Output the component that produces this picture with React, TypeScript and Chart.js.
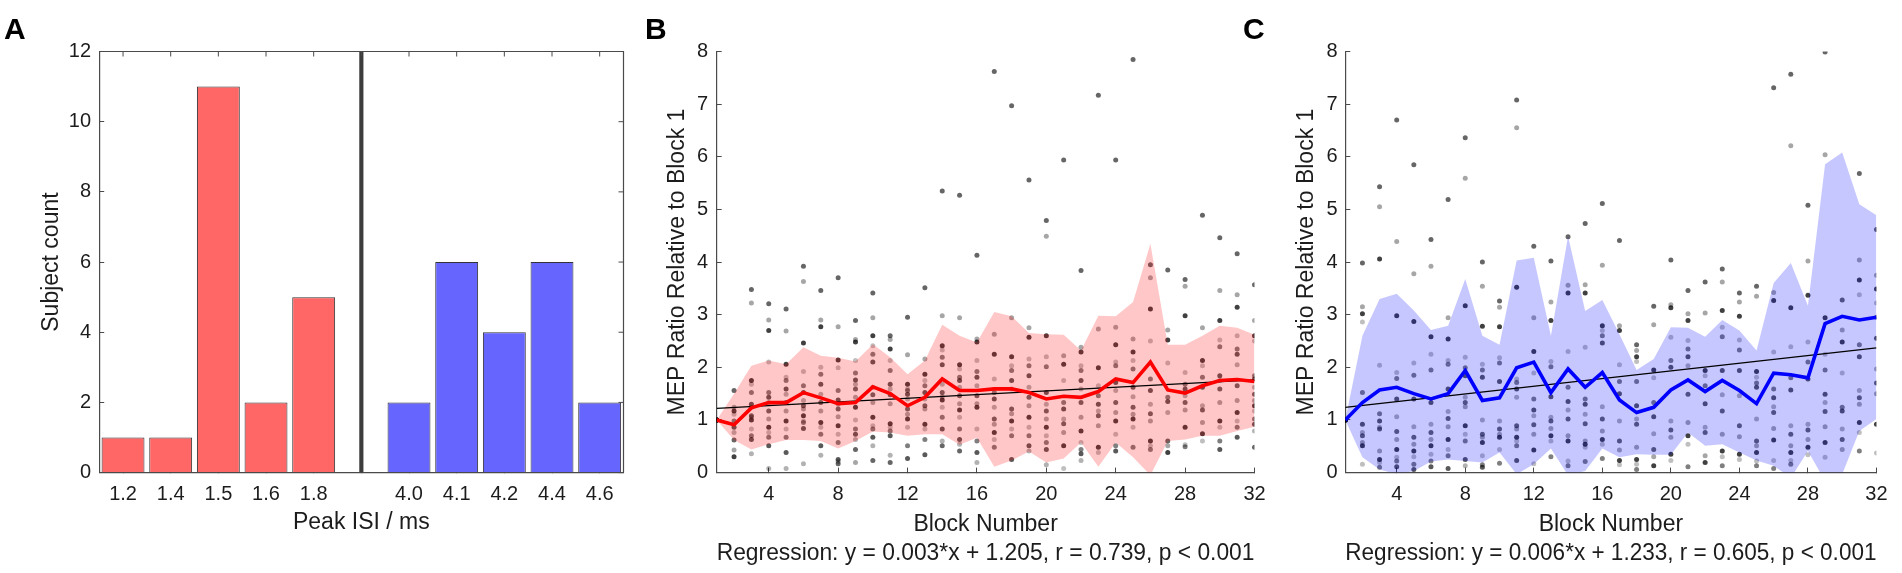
import { useEffect, useRef } from "react";
import { Chart, registerables } from "chart.js";

Chart.register(...registerables);

const FONT = "'Liberation Sans', Arial, Helvetica, sans-serif";
const INK = "#1c1c1c";
const AXIS = "#4a4a4a";

Chart.defaults.font.family = FONT;
Chart.defaults.color = INK;

// ---- Panel A: peak ISI histogram ----
const isiLabels = ["1.2", "1.4", "1.5", "1.6", "1.8", "", "4.0", "4.1", "4.2", "4.4", "4.6"];
const earlyCounts = [1, 1, 11, 2, 5, null, null, null, null, null, null];
const lateCounts = [null, null, null, null, null, null, 2, 6, 4, 6, 2];
const dividerCounts = [null, null, null, null, null, 12, null, null, null, null, null];

// ---- Panels B and C: MEP ratio per block ----
const blocks = [1, 2, 3, 4, 5, 6, 7, 8, 9, 10, 11, 12, 13, 14, 15, 16, 17, 18, 19, 20, 21, 22, 23, 24, 25, 26, 27, 28, 29, 30, 31, 32];
const blockTicks = [4, 8, 12, 16, 20, 24, 28, 32];
const regX = [1, 32];

const bMean = [1.0, 0.91, 1.23, 1.33, 1.33, 1.52, 1.42, 1.31, 1.33, 1.63, 1.5, 1.27, 1.43, 1.78, 1.56, 1.56, 1.59, 1.59, 1.52, 1.4, 1.45, 1.43, 1.54, 1.78, 1.71, 2.1, 1.57, 1.51, 1.65, 1.75, 1.77, 1.73];
const bUpper = [1.0, 1.5, 2.03, 2.13, 2.06, 2.38, 2.22, 2.18, 2.11, 2.44, 2.19, 1.87, 2.13, 2.81, 2.6, 2.47, 3.05, 2.97, 2.65, 2.63, 2.62, 2.32, 2.98, 2.97, 3.24, 4.35, 2.43, 2.43, 2.6, 2.79, 2.75, 2.62];
const bLower = [1.0, 0.62, 0.44, 0.54, 0.62, 0.62, 0.6, 0.46, 0.6, 0.78, 0.76, 0.7, 0.73, 0.73, 0.53, 0.66, 0.11, 0.23, 0.4, 0.19, 0.27, 0.57, 0.11, 0.57, 0.29, -0.05, 0.6, 0.63, 0.7, 0.7, 0.79, 0.87];
const bRegression = [1.22, 1.76];
const bDots = [
  [1, 1, 1, 1, 1, 1, 1, 1],
  [1.56, 1.24, 1.17, 1.11, 0.98, 0.86, 0.76, 0.62, 0.43, 0.3],
  [3.48, 3.22, 1.75, 1.68, 1.52, 1.3, 1.24, 1.08, 1.05, 1.0, 0.83, 0.7, 0.63, 0.36],
  [3.21, 2.9, 2.7, 2.1, 1.52, 1.43, 1.33, 1.17, 1.02, 0.86, 0.76, 0.67, 0.51, 0.08],
  [3.11, 2.69, 2.06, 1.81, 1.75, 1.59, 1.49, 1.33, 1.17, 0.98, 0.83, 0.67, 0.38, 0.08],
  [3.92, 3.63, 2.46, 1.92, 1.65, 1.52, 1.37, 1.27, 1.21, 1.08, 0.98, 0.95, 0.84, 0.17],
  [3.46, 2.9, 2.77, 2.0, 1.87, 1.68, 1.49, 1.33, 1.17, 0.95, 0.86, 0.73, 0.51, 0.33],
  [3.7, 2.77, 2.14, 1.99, 1.56, 1.38, 1.3, 1.21, 1.06, 0.89, 0.73, 0.57, 0.25, 0.21, 0.17],
  [2.89, 2.53, 2.48, 2.13, 1.89, 1.76, 1.68, 1.59, 1.43, 1.24, 1.0, 0.83, 0.73, 0.63, 0.44, 0.19],
  [3.41, 2.94, 2.6, 2.41, 2.25, 2.1, 1.62, 1.48, 1.33, 1.05, 0.89, 0.83, 0.67, 0.51, 0.23],
  [2.6, 2.53, 2.35, 2.13, 1.94, 1.68, 1.59, 1.48, 1.31, 0.93, 0.86, 0.79, 0.7, 0.33, 0.19],
  [2.95, 2.24, 1.68, 1.59, 1.56, 1.49, 1.4, 1.21, 1.11, 1.02, 0.86, 0.51, 0.27],
  [3.51, 2.16, 1.87, 1.75, 1.65, 1.52, 1.4, 1.27, 1.21, 0.92, 0.83, 0.63, 0.34],
  [5.35, 2.98, 2.41, 2.33, 2.19, 2.05, 1.68, 1.52, 1.44, 1.38, 1.24, 1.05, 0.83, 0.6, 0.51],
  [5.27, 2.94, 2.05, 1.97, 1.81, 1.75, 1.62, 1.46, 1.31, 1.19, 1.05, 0.83, 0.63, 0.54, 0.41],
  [4.13, 2.54, 2.48, 2.13, 1.92, 1.81, 1.65, 1.46, 1.31, 1.24, 0.83, 0.6, 0.38, 0.19],
  [7.62, 2.63, 2.25, 1.78, 1.52, 1.4, 1.24, 1.02, 0.92, 0.76, 0.63, 0.48],
  [6.97, 2.94, 2.2, 2.03, 1.94, 1.75, 1.59, 1.21, 1.12, 0.98, 0.83, 0.7, 0.25],
  [5.56, 2.75, 2.57, 2.16, 2.03, 1.84, 1.62, 1.43, 1.27, 1.05, 0.86, 0.7, 0.51, 0.41],
  [4.79, 4.49, 2.6, 2.2, 2.01, 1.52, 1.3, 1.17, 1.02, 0.86, 0.7, 0.57, 0.44, 0.15],
  [5.94, 2.22, 2.06, 1.75, 1.33, 1.21, 1.02, 0.93, 0.76, 0.51, 0.08],
  [3.84, 2.38, 2.29, 2.03, 1.94, 1.75, 1.59, 1.33, 1.05, 0.79, 0.57, 0.44, 0.36, 0.23],
  [7.17, 2.73, 1.99, 1.65, 1.46, 1.3, 1.17, 1.08, 0.89, 0.48, 0.38],
  [5.94, 2.76, 2.43, 2.1, 2.03, 1.71, 1.56, 1.33, 1.14, 0.98, 0.73, 0.51, 0.41],
  [7.85, 2.54, 2.29, 2.13, 1.97, 1.62, 1.44, 1.24, 1.11, 1.02, 0.86, 0.48],
  [3.95, 3.7, 3.11, 2.5, 1.78, 1.56, 1.3, 1.12, 0.98, 0.6, 0.51, 0.44],
  [3.85, 2.71, 2.52, 2.08, 1.43, 1.35, 1.14, 0.6, 0.51, 0.38],
  [3.67, 3.54, 2.98, 1.9, 1.68, 1.59, 1.46, 1.33, 1.19, 0.86, 0.53, 0.49],
  [4.89, 2.75, 2.13, 2.03, 1.81, 1.62, 1.27, 1.19, 0.95, 0.74, 0.6],
  [4.46, 3.46, 2.89, 2.52, 2.39, 1.84, 1.75, 1.59, 1.33, 0.98, 0.86, 0.6, 0.44],
  [4.16, 3.38, 3.14, 2.6, 2.35, 2.25, 2.05, 1.65, 1.37, 1.14, 0.98, 0.86, 0.67],
  [3.57, 2.89, 2.6, 2.5, 1.84, 1.78, 1.62, 1.49, 1.37, 1.27, 1.17, 1.02, 0.92, 0.79, 0.48],
];

const cMean = [1.0, 1.33, 1.57, 1.62, 1.5, 1.4, 1.5, 1.94, 1.37, 1.42, 1.99, 2.1, 1.52, 1.97, 1.62, 1.9, 1.38, 1.14, 1.24, 1.57, 1.76, 1.54, 1.75, 1.56, 1.31, 1.89, 1.86, 1.8, 2.83, 2.97, 2.9, 2.95];
const cUpper = [1.0, 2.6, 3.3, 3.4, 3.08, 2.71, 2.79, 3.68, 2.6, 2.43, 4.03, 4.08, 2.6, 4.49, 3.07, 3.28, 2.63, 1.95, 2.16, 2.76, 2.75, 2.58, 2.9, 2.7, 2.32, 3.6, 3.98, 3.17, 5.86, 6.08, 5.1, 4.89];
const cLower = [1.0, 0.29, 0.06, -0.03, 0.03, 0.21, 0.25, 0.22, 0.19, 0.38, -0.03, 0.16, 0.46, -0.05, 0.03, 0.46, 0.29, 0.35, 0.34, 0.34, 0.76, 0.51, 0.54, 0.38, 0.23, 0.13, -0.1, 0.41, -0.16, -0.03, 0.79, 1.02];
const cRegression = [1.24, 2.37];
const cDots = [
  [1, 1, 1, 1, 1, 1, 1, 1],
  [3.98, 3.15, 3.02, 2.86, 1.52, 0.92, 0.76, 0.7, 0.57, 0.51, 0.16],
  [5.43, 5.05, 4.06, 2.04, 1.12, 0.98, 0.86, 0.83, 0.41, 0.25, 0.19, 0.1],
  [6.7, 4.39, 2.98, 1.9, 1.79, 1.4, 1.06, 0.78, 0.63, 0.44, 0.29, 0.22, 0.11],
  [5.85, 3.78, 2.87, 2.08, 1.85, 1.4, 0.87, 0.67, 0.54, 0.41, 0.3, 0.16, 0.06],
  [4.43, 3.92, 2.58, 2.25, 1.95, 1.33, 0.92, 0.76, 0.63, 0.51, 0.35, 0.22, 0.11],
  [5.19, 2.94, 2.54, 2.13, 2.06, 1.59, 1.16, 1.03, 0.87, 0.63, 0.44, 0.32, 0.08],
  [6.36, 5.59, 3.17, 2.19, 1.99, 1.84, 1.43, 1.33, 1.25, 0.89, 0.73, 0.6, 0.25, 0.13],
  [4.0, 3.54, 2.78, 2.06, 1.95, 1.81, 1.0, 0.73, 0.67, 0.57, 0.32, 0.15, 0.1],
  [3.26, 3.14, 2.77, 2.18, 2.08, 1.73, 0.98, 0.83, 0.73, 0.67, 0.44, 0.18],
  [7.08, 6.55, 3.52, 1.78, 1.71, 1.59, 1.43, 0.89, 0.83, 0.67, 0.6, 0.51, 0.23],
  [4.3, 2.94, 2.3, 1.89, 1.4, 1.19, 1.08, 0.91, 0.73, 0.43, 0.17],
  [4.02, 3.24, 2.89, 2.11, 2.01, 1.44, 1.05, 0.98, 0.84, 0.7, 0.6, 0.3],
  [4.48, 3.56, 3.41, 2.3, 1.62, 1.35, 1.19, 1.02, 0.7, 0.6, 0.22, 0.13],
  [4.73, 3.57, 3.41, 2.38, 1.4, 1.3, 1.11, 0.93, 0.6, 0.54, 0.48, 0.21],
  [5.11, 3.94, 2.79, 2.7, 2.6, 2.46, 1.25, 1.02, 0.79, 0.63, 0.54, 0.27],
  [4.41, 2.79, 2.7, 2.05, 1.73, 1.5, 0.98, 0.6, 0.43, 0.23, 0.15],
  [2.43, 2.32, 2.2, 2.11, 1.73, 1.27, 1.02, 0.92, 0.48, 0.25, 0.16, 0.06],
  [3.16, 2.81, 1.95, 1.8, 1.33, 1.06, 0.74, 0.44, 0.3, 0.13],
  [4.04, 3.19, 3.13, 2.57, 2.13, 2.0, 0.98, 0.81, 0.67, 0.35, 0.23],
  [3.46, 3.02, 2.89, 2.51, 2.35, 2.2, 2.03, 1.49, 0.95, 0.7, 0.54, 0.11],
  [3.62, 3.03, 1.94, 1.84, 1.65, 1.31, 0.86, 0.76, 0.32, 0.19],
  [3.87, 3.62, 3.08, 2.76, 2.58, 1.94, 1.48, 1.17, 0.73, 0.41, 0.3, 0.13],
  [3.41, 3.24, 2.97, 2.52, 2.33, 1.94, 1.46, 0.89, 0.68, 0.35, 0.25],
  [3.54, 3.35, 1.92, 1.81, 1.7, 1.62, 1.02, 0.6, 0.51, 0.38, 0.22, 0.13],
  [7.31, 3.42, 3.27, 2.29, 1.59, 1.42, 1.25, 1.14, 0.84, 0.62, 0.23, 0.08],
  [7.57, 6.21, 3.13, 2.39, 1.8, 1.57, 0.89, 0.73, 0.51, 0.38, 0.23, 0.16],
  [5.08, 4.02, 3.37, 2.48, 2.1, 1.78, 0.92, 0.81, 0.63, 0.48, 0.34],
  [7.99, 6.04, 2.94, 2.25, 1.95, 1.49, 1.33, 1.16, 0.87, 0.57, 0.29],
  [3.28, 2.71, 2.48, 1.89, 1.24, 1.17, 0.83, 0.63, 0.44],
  [5.68, 4.04, 3.66, 3.38, 2.43, 2.2, 1.56, 1.42, 1.3, 0.95, 0.76, 0.41],
  [4.62, 3.75, 3.49, 3.22, 2.95, 2.55, 1.97, 1.7, 1.5, 0.92, 0.37],
];

// subject dots are black at a few transparencies
const dotAlphas = [0.6, 0.35, 0.75, 0.25, 0.5, 0.65, 0.3];

const inwardGrid = {
  drawOnChartArea: false,
  drawTicks: true,
  tickLength: -5,
  tickWidth: 1,
  color: AXIS,
  offset: false,
};
const axisBorder = { display: true, color: AXIS, width: 1.2 };
const tickFont = { family: FONT, size: 20 };

// closes the box of panel A (top and right edges, with inward ticks)
const boxFrame = {
  id: "boxFrame",
  afterDraw(chart: any) {
    const { ctx, chartArea, scales } = chart;
    const { left, right, top, bottom } = chartArea;
    ctx.save();
    ctx.strokeStyle = AXIS;
    ctx.lineWidth = 1.2;
    ctx.beginPath();
    ctx.moveTo(left, top);
    ctx.lineTo(right, top);
    ctx.lineTo(right, bottom);
    ctx.stroke();
    ctx.lineWidth = 1;
    ctx.beginPath();
    scales.x.ticks.forEach((_: any, i: number) => {
      const px = scales.x.getPixelForTick(i);
      ctx.moveTo(px, top);
      ctx.lineTo(px, top + 5);
    });
    scales.y.ticks.forEach((t: any) => {
      const py = scales.y.getPixelForValue(t.value);
      ctx.moveTo(right, py);
      ctx.lineTo(right - 5, py);
    });
    ctx.stroke();
    ctx.restore();
  },
};

function histogramConfig(): any {
  return {
    type: "bar",
    data: {
      labels: isiLabels,
      datasets: [
        {
          data: earlyCounts,
          backgroundColor: "#ff6666",
          borderColor: "#333333",
          borderWidth: 1,
          barPercentage: 0.9,
          categoryPercentage: 1,
          grouped: false,
        },
        {
          data: lateCounts,
          backgroundColor: "#6666ff",
          borderColor: "#333333",
          borderWidth: 1,
          barPercentage: 0.9,
          categoryPercentage: 1,
          grouped: false,
        },
        {
          data: dividerCounts,
          backgroundColor: "#3c3c3c",
          borderWidth: 0,
          barThickness: 3.5,
          grouped: false,
        },
      ],
    },
    plugins: [boxFrame],
    options: {
      animation: false,
      responsive: true,
      maintainAspectRatio: false,
      events: [],
      layout: { padding: { left: 38, right: 16.5, top: 51.5, bottom: 36.6 } },
      plugins: { legend: { display: false }, tooltip: { enabled: false } },
      scales: {
        x: {
          type: "category",
          position: "bottom",
          offset: true,
          grid: inwardGrid,
          border: axisBorder,
          ticks: { font: tickFont, color: INK, padding: 14.4, autoSkip: false, maxRotation: 0 },
          title: {
            display: true,
            text: "Peak ISI / ms",
            color: INK,
            font: { family: FONT, size: 23, lineHeight: 1.2 },
            padding: 0,
          },
          afterFit: (s: any) => {
            s.height = 63.8;
          },
        },
        y: {
          type: "linear",
          position: "left",
          min: 0,
          max: 12,
          grid: inwardGrid,
          border: axisBorder,
          ticks: { stepSize: 2, font: tickFont, color: INK, padding: 13.2 },
          title: {
            display: true,
            text: "Subject count",
            color: INK,
            font: { family: FONT, size: 23, lineHeight: 1.2 },
            padding: 0,
          },
          afterFit: (s: any) => {
            s.width = 61.2;
          },
        },
      },
    },
  };
}

interface BlockPanel {
  dots: number[][];
  mean: number[];
  upper: number[];
  lower: number[];
  regression: number[];
  lineColor: string;
  bandColor: string;
  regressionText: string;
  padLeft: number;
  padRight: number;
  yWidth: number;
  yTickPad: number;
}

function blockConfig(p: BlockPanel): any {
  const pts = (ys: number[]) => ys.map((y, i) => ({ x: blocks[i], y }));
  const dotPts = p.dots.flatMap((vals, i) => vals.map((y) => ({ x: blocks[i], y })));
  const dotColors = p.dots.flatMap((vals) =>
    vals.map((_, j) => `rgba(0,0,0,${dotAlphas[j % dotAlphas.length]})`)
  );
  return {
    type: "line",
    data: {
      datasets: [
        {
          type: "scatter",
          data: dotPts,
          pointRadius: 2.5,
          pointBorderWidth: 0,
          pointBackgroundColor: dotColors,
          order: 5,
        },
        {
          data: pts(p.upper),
          borderColor: "rgba(0,0,0,0)",
          borderWidth: 0,
          pointRadius: 0,
          fill: false,
          order: 4,
        },
        {
          data: pts(p.lower),
          borderColor: "rgba(0,0,0,0)",
          borderWidth: 0,
          pointRadius: 0,
          fill: "-1",
          backgroundColor: p.bandColor,
          order: 3,
        },
        {
          data: p.regression.map((y, i) => ({ x: regX[i], y })),
          borderColor: "#000000",
          borderWidth: 1.2,
          pointRadius: 0,
          fill: false,
          order: 2,
        },
        {
          data: pts(p.mean),
          borderColor: p.lineColor,
          borderWidth: 3.6,
          pointRadius: 0,
          fill: false,
          tension: 0,
          order: 1,
        },
      ],
    },
    options: {
      animation: false,
      responsive: true,
      maintainAspectRatio: false,
      events: [],
      layout: { padding: { left: p.padLeft, right: p.padRight, top: 51.5, bottom: 4.7 } },
      plugins: { legend: { display: false }, tooltip: { enabled: false } },
      scales: {
        x: {
          type: "linear",
          position: "bottom",
          min: 1,
          max: 32,
          grid: inwardGrid,
          border: axisBorder,
          ticks: { font: tickFont, color: INK, padding: 14.4, autoSkip: false, maxRotation: 0 },
          afterBuildTicks: (s: any) => {
            s.ticks = blockTicks.map((v) => ({ value: v }));
          },
          title: {
            display: true,
            text: ["Block Number", p.regressionText],
            color: INK,
            font: { family: FONT, size: 23, lineHeight: 1.27 },
            padding: 0,
          },
          afterFit: (s: any) => {
            s.height = 95.7;
          },
        },
        y: {
          type: "linear",
          position: "left",
          min: 0,
          max: 8,
          grid: inwardGrid,
          border: axisBorder,
          ticks: { stepSize: 1, font: tickFont, color: INK, padding: p.yTickPad },
          title: {
            display: true,
            text: "MEP Ratio Relative to Block 1",
            color: INK,
            font: { family: FONT, size: 23, lineHeight: 1.2 },
            padding: 0,
          },
          afterFit: (s: any) => {
            s.width = p.yWidth;
          },
        },
      },
    },
  };
}

function ChartBox({ left, width, build }: { left: number; width: number; build: () => any }) {
  const canvasRef = useRef<HTMLCanvasElement>(null);

  useEffect(() => {
    if (!canvasRef.current) return;
    const chart = new Chart(canvasRef.current, build());
    return () => {
      chart.destroy();
    };
  }, [build]);

  return (
    <div style={{ position: "absolute", left, top: 0, width, height: 573 }}>
      <canvas ref={canvasRef} />
    </div>
  );
}

const buildA = () => histogramConfig();
const buildB = () =>
  blockConfig({
    dots: bDots,
    mean: bMean,
    upper: bUpper,
    lower: bLower,
    regression: bRegression,
    lineColor: "#ff0000",
    bandColor: "rgba(255,0,0,0.22)",
    regressionText: "Regression: y = 0.003*x + 1.205, r = 0.739, p < 0.001",
    padLeft: 24.2,
    padRight: 35.5,
    yWidth: 52.5,
    yTickPad: 13.7,
  });
const buildC = () =>
  blockConfig({
    dots: cDots,
    mean: cMean,
    upper: cUpper,
    lower: cLower,
    regression: cRegression,
    lineColor: "#0000ff",
    bandColor: "rgba(0,0,255,0.22)",
    regressionText: "Regression: y = 0.006*x + 1.233, r = 0.605, p < 0.001",
    padLeft: 53.2,
    padRight: 20.5,
    yWidth: 52.1,
    yTickPad: 12.8,
  });

const letterStyle = {
  position: "absolute" as const,
  top: 14.4,
  fontFamily: FONT,
  fontWeight: 700,
  fontSize: 30,
  lineHeight: "30px",
  color: "#000",
};

export default function App() {
  return (
    <div style={{ position: "absolute", left: 0, top: 0, width: 1902, height: 573, background: "#fff", overflow: "hidden" }}>
      <ChartBox left={0} width={640} build={buildA} />
      <ChartBox left={640} width={650} build={buildB} />
      <ChartBox left={1240} width={662} build={buildC} />
      <div style={{ ...letterStyle, left: 4 }}>A</div>
      <div style={{ ...letterStyle, left: 645 }}>B</div>
      <div style={{ ...letterStyle, left: 1243 }}>C</div>
    </div>
  );
}
